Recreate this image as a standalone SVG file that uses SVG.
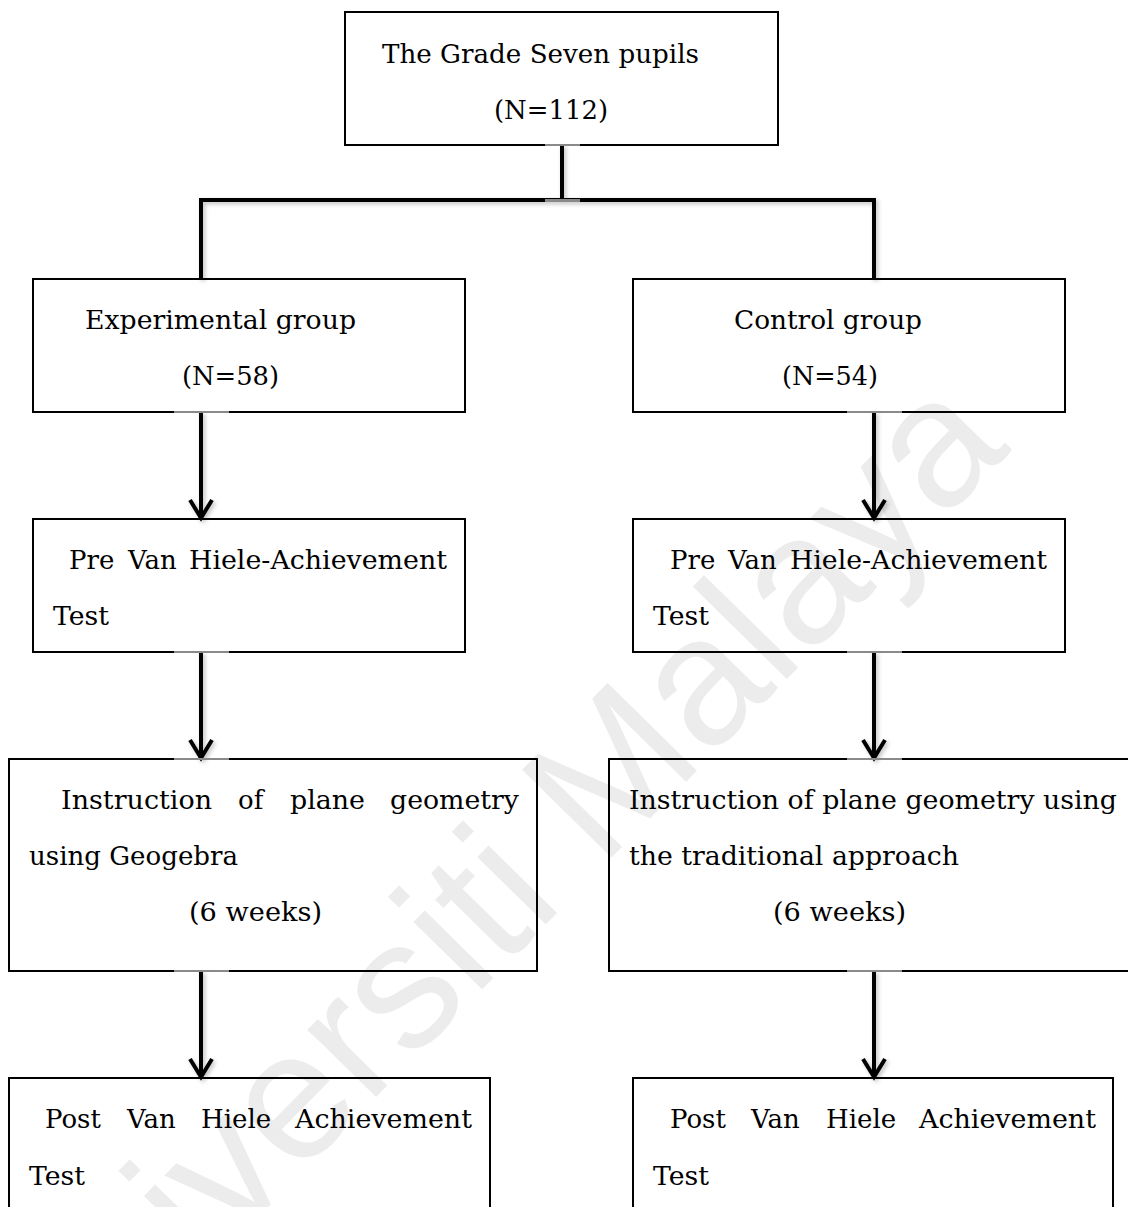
<svg xmlns="http://www.w3.org/2000/svg" width="1128" height="1207" viewBox="0 0 1128 1207">
<style>
.box{fill:none;stroke:#000;stroke-width:2}
.t{font-family:"DejaVu Serif","Liberation Serif",serif;font-size:26px;fill:#000}
.wire{fill:none;stroke:#000;stroke-width:4;stroke-linejoin:miter}
.arr{fill:none;stroke:#000;stroke-width:4;marker-end:url(#chev)}
.gap{fill:#8a8a8a}
.wm{font-family:"Liberation Sans",Arial,sans-serif;font-size:182px;fill:#ececec}
</style>
<defs>
<marker id="chev" viewBox="-24 -14 28 28" refX="0" refY="0" markerWidth="28" markerHeight="28" markerUnits="userSpaceOnUse" orient="auto">
<path d="M-19,-11 L-1,0 L-19,11" fill="none" stroke="#000" stroke-width="4"/>
</marker>
<filter id="sh" x="-50%" y="-10%" width="200%" height="120%">
<feDropShadow dx="2" dy="2" stdDeviation="2" flood-color="#000" flood-opacity="0.25"/>
</filter>
</defs>
<rect width="1128" height="1207" fill="#fff"/>
<text class="wm" transform="translate(41,1438) rotate(-45.5)">Universiti Malaya</text>

<g id="connectors" filter="url(#sh)">
<path class="wire" d="M562,145 V200 M201,279 V200 H874 V279"/>
<path class="arr" d="M201,412 V519"/>
<path class="arr" d="M874,412 V519"/>
<path class="arr" d="M201,652 V759"/>
<path class="arr" d="M874,652 V759"/>
<path class="arr" d="M201,971 V1078"/>
<path class="arr" d="M874,971 V1078"/>
</g>

<g id="top">
<rect class="box" x="345" y="12" width="433" height="133"/>
<text class="t" x="382" y="63" textLength="317" lengthAdjust="spacingAndGlyphs">The Grade Seven pupils</text>
<text class="t" x="494" y="119" textLength="114" lengthAdjust="spacingAndGlyphs">(N=112)</text>
</g>

<g id="experimental">
<rect class="box" x="33" y="279" width="432" height="133"/>
<text class="t" x="85" y="329" textLength="271" lengthAdjust="spacingAndGlyphs">Experimental group</text>
<text class="t" x="182" y="385" textLength="97" lengthAdjust="spacingAndGlyphs">(N=58)</text>
</g>

<g id="control">
<rect class="box" x="633" y="279" width="432" height="133"/>
<text class="t" x="734" y="329" textLength="188" lengthAdjust="spacingAndGlyphs">Control group</text>
<text class="t" x="782" y="385" textLength="96" lengthAdjust="spacingAndGlyphs">(N=54)</text>
</g>

<g id="pre-left">
<rect class="box" x="33" y="519" width="432" height="133"/>
<text class="t" x="69" y="569">Pre</text>
<text class="t" x="128" y="569">Van</text>
<text class="t" x="189" y="569" textLength="258" lengthAdjust="spacingAndGlyphs">Hiele-Achievement</text>
<text class="t" x="53" y="625" textLength="56" lengthAdjust="spacingAndGlyphs">Test</text>
</g>

<g id="pre-right">
<rect class="box" x="633" y="519" width="432" height="133"/>
<text class="t" x="670" y="569">Pre</text>
<text class="t" x="728" y="569">Van</text>
<text class="t" x="790" y="569" textLength="257" lengthAdjust="spacingAndGlyphs">Hiele-Achievement</text>
<text class="t" x="653" y="625" textLength="56" lengthAdjust="spacingAndGlyphs">Test</text>
</g>

<g id="instruction-left">
<rect class="box" x="9" y="759" width="528" height="212"/>
<text class="t" x="61" y="809" textLength="151" lengthAdjust="spacingAndGlyphs">Instruction</text>
<text class="t" x="238" y="809">of</text>
<text class="t" x="290" y="809" textLength="75" lengthAdjust="spacingAndGlyphs">plane</text>
<text class="t" x="390" y="809" textLength="129" lengthAdjust="spacingAndGlyphs">geometry</text>
<text class="t" x="29" y="865" textLength="209" lengthAdjust="spacingAndGlyphs">using Geogebra</text>
<text class="t" x="189" y="921" textLength="133" lengthAdjust="spacingAndGlyphs">(6 weeks)</text>
</g>

<g id="instruction-right">
<rect class="box" x="609" y="759" width="540" height="212"/>
<text class="t" x="629" y="809" textLength="488" lengthAdjust="spacingAndGlyphs">Instruction of plane geometry using</text>
<text class="t" x="629" y="865" textLength="330" lengthAdjust="spacingAndGlyphs">the traditional approach</text>
<text class="t" x="773" y="921" textLength="133" lengthAdjust="spacingAndGlyphs">(6 weeks)</text>
</g>

<g id="post-left">
<rect class="box" x="9" y="1078" width="481" height="160"/>
<text class="t" x="45" y="1128">Post</text>
<text class="t" x="127" y="1128">Van</text>
<text class="t" x="201" y="1128">Hiele</text>
<text class="t" x="295" y="1128" textLength="177" lengthAdjust="spacingAndGlyphs">Achievement</text>
<text class="t" x="29" y="1185" textLength="56" lengthAdjust="spacingAndGlyphs">Test</text>
</g>

<g id="post-right">
<rect class="box" x="633" y="1078" width="480" height="160"/>
<text class="t" x="670" y="1128">Post</text>
<text class="t" x="751" y="1128">Van</text>
<text class="t" x="826" y="1128">Hiele</text>
<text class="t" x="919" y="1128" textLength="177" lengthAdjust="spacingAndGlyphs">Achievement</text>
<text class="t" x="653" y="1185" textLength="56" lengthAdjust="spacingAndGlyphs">Test</text>
</g>

<g id="joins">
<rect class="gap" x="545" y="144" width="35" height="2"/>
<rect class="gap" x="545" y="199" width="35" height="3"/>
<rect class="gap" x="174" y="411" width="55" height="2"/>
<rect class="gap" x="847" y="411" width="55" height="2"/>
<rect class="gap" x="174" y="651" width="55" height="2"/>
<rect class="gap" x="847" y="651" width="55" height="2"/>
<rect class="gap" x="174" y="758" width="55" height="2"/>
<rect class="gap" x="847" y="758" width="55" height="2"/>
<rect class="gap" x="174" y="970" width="55" height="2"/>
<rect class="gap" x="847" y="970" width="55" height="2"/>
</g>
</svg>
